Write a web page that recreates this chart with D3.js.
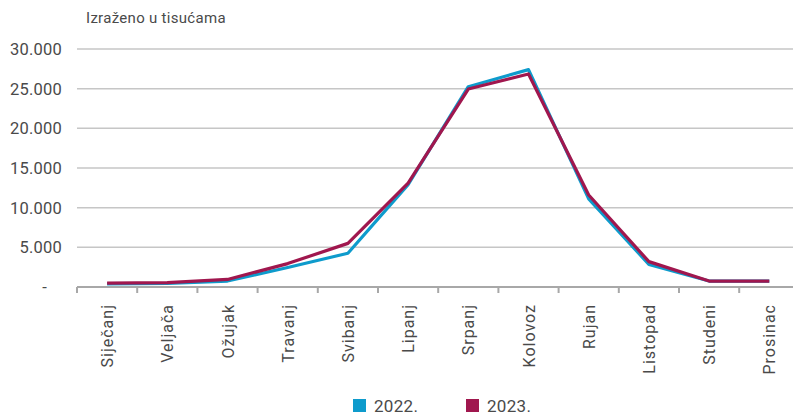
<!DOCTYPE html>
<html>
<head>
<meta charset="utf-8">
<script src="https://cdn.jsdelivr.net/npm/d3@7"></script>
<style>
  body { margin: 0; background: #fff; }
  svg { display: block; font-family: Roboto, "Liberation Sans", sans-serif; }
</style>
</head>
<body>
<div id="chart"></div>
<script>
// Data (values in thousands)
let months = ["Siječanj", "Veljača", "Ožujak", "Travanj", "Svibanj", "Lipanj",
              "Srpanj", "Kolovoz", "Rujan", "Listopad", "Studeni", "Prosinac"];
let values2022 = [400, 450, 750, 2450, 4250, 12900, 25250, 27400, 11100, 2850, 750, 750];
let values2023 = [500, 550, 950, 2950, 5500, 13100, 24950, 26850, 11600, 3200, 750, 750];
let yTicks = [0, 5000, 10000, 15000, 20000, 25000, 30000];
let seriesNames = ["2022.", "2023."];

let colors = ['#0e9bcc', '#a0174e'];

let width = 793, height = 416;
let margin = {top: 49, left: 77, bottom: 129};

let svg = d3.select('#chart').append('svg')
    .attr('width', width)
    .attr('height', height);

let xScale = d3.scaleBand()
    .domain(months)
    .range([margin.left, margin.left + 12 * 60.2]);

let yScale = d3.scaleLinear()
    .domain([0, 30000])
    .range([height - margin.bottom, margin.top]);

let fmt = function(d){
    if (d === 0) return '-';
    return d3.format(',')(d).replace(/,/g, '.');
};

// gridlines
svg.append('g')
    .selectAll('line')
    .data(yTicks.filter(d => d > 0))
    .enter().append('line')
    .attr('x1', margin.left).attr('x2', width)
    .attr('y1', d => yScale(d)).attr('y2', d => yScale(d))
    .attr('stroke', '#c6c6c6')
    .attr('stroke-width', 1.5);

// y labels (the zero is shown as a dash, set in a bit like accounting format)
svg.append('g')
    .selectAll('text')
    .data(yTicks)
    .enter().append('text')
    .attr('x', d => d === 0 ? 47 : 62)
    .attr('y', d => yScale(d) + 6)
    .attr('text-anchor', 'end')
    .attr('font-size', 16.5)
    .attr('letter-spacing', 0.2)
    .attr('fill', '#4a4a4a')
    .text(fmt);

// x axis
let xAxis = svg.append('g')
    .attr('transform', 'translate(0,' + yScale(0) + ')');
xAxis.append('line')
    .attr('x1', margin.left).attr('x2', width)
    .attr('stroke', '#a8a8a8').attr('stroke-width', 2);
xAxis.selectAll('.tick')
    .data(months)
    .enter().append('line')
    .attr('x1', d => xScale(d)).attr('x2', d => xScale(d))
    .attr('y1', 0).attr('y2', 6)
    .attr('stroke', '#a8a8a8').attr('stroke-width', 2);
xAxis.selectAll('.lbl')
    .data(months)
    .enter().append('text')
    .attr('transform', d => 'translate(' + (xScale(d) + xScale.bandwidth() / 2 + 6) + ',17) rotate(-90)')
    .attr('text-anchor', 'end')
    .attr('font-size', 16)
    .attr('letter-spacing', 1)
    .attr('fill', '#4a4a4a')
    .text(d => d);

// title
svg.append('text')
    .attr('x', 86).attr('y', 23)
    .attr('font-size', 15)
    .attr('letter-spacing', 0.3)
    .attr('fill', '#4a4a4a')
    .text('Izraženo u tisućama');

let line = d3.line()
    .x((d, i) => xScale(months[i]) + xScale.bandwidth() / 2)
    .y(d => yScale(d));

[values2022, values2023].forEach(function(vals, i){
    svg.append('path')
        .datum(vals)
        .attr('d', line)
        .attr('fill', 'none')
        .attr('stroke', colors[i])
        .attr('stroke-width', 3.2)
        .attr('stroke-linejoin', 'round');
});

// legend
let legend = svg.selectAll('.legend')
    .data(seriesNames)
    .enter().append('g')
    .attr('transform', (d, i) => 'translate(' + (353 + i * 113) + ',399)');
legend.append('rect')
    .attr('width', 13).attr('height', 13)
    .attr('fill', (d, i) => colors[i]);
legend.append('text')
    .attr('x', 21).attr('y', 13)
    .attr('font-size', 17)
    .attr('letter-spacing', 0.3)
    .attr('fill', '#4a4a4a')
    .text(d => d);
</script>
</body>
</html>
